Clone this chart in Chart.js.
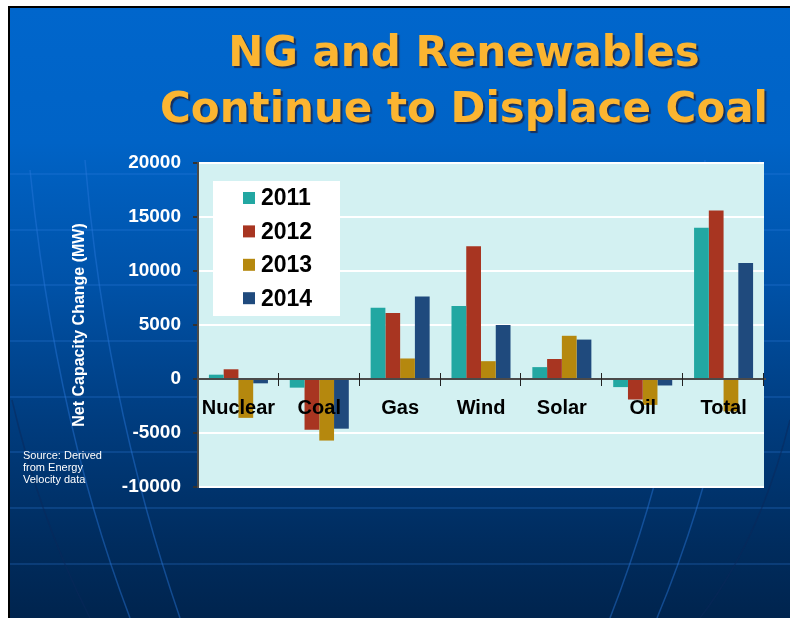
<!DOCTYPE html>
<html>
<head>
<meta charset="utf-8">
<script src="https://cdn.jsdelivr.net/npm/chart.js@4.4.1/dist/chart.umd.min.js"></script>
<style>
  html, body { margin: 0; padding: 0; width: 790px; height: 618px; overflow: hidden; background: #fff; }
  #slide {
    position: absolute; left: 8px; top: 6px; width: 780px; height: 610px;
    border-left: 2px solid #000; border-top: 2px solid #000;
    background: linear-gradient(to bottom, #0066cc 0%, #0063c6 22%, #0052a8 45%, #003c7e 68%, #002c5e 88%, #00244e 100%);
  }
  #deco { position: absolute; left: 0; top: 0; }
  #chart { position: absolute; left: 0; top: 0; }
  .title {
    position: absolute; left: 139px; width: 650px; text-align: center; white-space: nowrap;
    font-family: "DejaVu Sans", sans-serif; font-weight: bold; font-size: 42px; line-height: 56px;
    color: #fbb531; text-shadow: 2px 2px 1px #16305e;
  }
  #source {
    position: absolute; left: 23px; top: 449px;
    font-family: "Liberation Sans", Arial, sans-serif; font-size: 11px; line-height: 12px; color: #fff;
  }
</style>
</head>
<body>
<div id="slide"></div>
<svg id="deco" width="790" height="618">
  <g stroke="rgba(50,130,225,0.3)" stroke-width="1.5" fill="none">
    <line x1="10" y1="174" x2="790" y2="174"/>
    <line x1="10" y1="230" x2="790" y2="230"/>
    <line x1="10" y1="285" x2="790" y2="285"/>
    <line x1="10" y1="341" x2="790" y2="341"/>
    <line x1="10" y1="397" x2="790" y2="397"/>
    <line x1="10" y1="452" x2="790" y2="452"/>
    <line x1="10" y1="508" x2="790" y2="508"/>
    <line x1="10" y1="564" x2="790" y2="564"/>
  </g>
  <g stroke="rgba(40,120,220,0.45)" stroke-width="1.5" fill="none">
    <path d="M 30 170 Q 55 420 130 618"/>
    <path d="M 85 160 Q 105 400 180 618"/>
    <path d="M 760 160 Q 740 420 657 618"/>
    <path d="M 705 160 Q 695 400 610 618"/>
  </g>
  <g stroke="rgba(10,40,90,0.5)" stroke-width="1.5" fill="none">
    <path d="M 12 400 Q 40 520 90 618"/>
    <path d="M 790 420 Q 760 540 700 618"/>
  </g>
</svg>
<canvas id="chart" width="790" height="618"></canvas>
<div class="title" style="top:24px">NG and Renewables</div>
<div class="title" style="top:80px">Continue to Displace Coal</div>
<div id="source">Source: Derived<br>from Energy<br>Velocity data</div>
<script>
const categories = ["Nuclear", "Coal", "Gas", "Wind", "Solar", "Oil", "Total"];
const years = ["2011", "2012", "2013", "2014"];
const values2011 = [400, -800, 6600, 6750, 1100, -750, 14000];
const values2012 = [900, -4700, 6100, 12300, 1850, -1900, 15600];
const values2013 = [-3600, -5700, 1900, 1650, 4000, -2400, -3000];
const values2014 = [-400, -4600, 7650, 5000, 3650, -600, 10750];
const yMin = -10000;
const yMax = 20000;
const yStep = 5000;
const yTitle = "Net Capacity Change (MW)";

const colors = ["#22a7a2", "#a83521", "#b5880e", "#1f4a7d"];
const fontFamily = '"Liberation Sans", Arial, sans-serif';

// fond du graphique + ligne zéro + petites graduations
const plotArea = {
  id: "plotArea",
  beforeDraw(chart) {
    const { ctx, chartArea: a } = chart;
    ctx.save();
    ctx.fillStyle = "#d3f1f2";
    ctx.fillRect(a.left, a.top, a.right - a.left, a.bottom - a.top);
    ctx.restore();
  },
  afterDatasetsDraw(chart) {
    const { ctx, chartArea: a, scales } = chart;
    const y0 = scales.y.getPixelForValue(0);
    const n = categories.length;
    const w = (a.right - a.left) / n;
    ctx.save();
    ctx.strokeStyle = "#4a4a4a";
    ctx.lineWidth = 2;
    ctx.beginPath();
    ctx.moveTo(a.left, y0);
    ctx.lineTo(a.right + 2, y0);
    ctx.stroke();
    ctx.strokeStyle = "#222";
    ctx.lineWidth = 1;
    for (let i = 1; i <= n; i++) {
      const x = Math.round(a.left + i * w) - 0.5;
      ctx.beginPath();
      ctx.moveTo(x, y0 - 6);
      ctx.lineTo(x, y0 + 7);
      ctx.stroke();
    }
    ctx.restore();
  },
};

// légende dans la zone du graphique
const boxLegend = {
  id: "boxLegend",
  afterDraw(chart) {
    const { ctx, chartArea: a } = chart;
    const bx = a.left + 15, by = a.top + 18;
    ctx.save();
    ctx.fillStyle = "#fff";
    ctx.fillRect(bx, by, 127, 135);
    ctx.font = "bold 23px " + fontFamily;
    ctx.textBaseline = "middle";
    chart.data.datasets.forEach((ds, i) => {
      const cy = by + 17 + i * 33.4;
      ctx.fillStyle = ds.backgroundColor;
      ctx.fillRect(bx + 30, cy - 6, 12, 12);
      ctx.fillStyle = "#000";
      ctx.fillText(ds.label, bx + 48, cy + 1);
    });
    ctx.restore();
  },
};

new Chart(document.getElementById("chart"), {
  type: "bar",
  data: {
    labels: categories,
    datasets: [values2011, values2012, values2013, values2014].map((v, i) => ({
      label: years[i],
      data: v,
      backgroundColor: colors[i],
      borderWidth: 0,
    })),
  },
  options: {
    responsive: false,
    animation: false,
    categoryPercentage: 0.73,
    barPercentage: 1.0,
    layout: { padding: { left: 68, top: 163, right: 26, bottom: 131 } },
    plugins: {
      legend: { display: false },
      tooltip: { enabled: false },
    },
    scales: {
      x: {
        position: { y: 0 },
        offset: true,
        grid: { display: false },
        border: { display: false },
        ticks: {
          z: 1,
          autoSkip: false,
          maxRotation: 0,
          padding: 9,
          color: "#000",
          font: { family: fontFamily, size: 20, weight: "bold" },
        },
      },
      y: {
        min: yMin,
        max: yMax,
        afterFit(scale) { scale.width = 130; },
        ticks: {
          stepSize: yStep,
          padding: 12,
          color: "#fff",
          font: { family: fontFamily, size: 19, weight: "bold" },
          callback: (v) => String(v),
        },
        grid: {
          color: (c) => (c.tick && c.tick.value === 0 ? "#4a4a4a" : "#ffffff"),
          lineWidth: 2,
          tickColor: "#333",
          tickLength: 5,
        },
        border: { color: "#4a4a4a", width: 2 },
        title: {
          display: true,
          text: yTitle,
          color: "#fff",
          padding: 2,
          font: { family: fontFamily, size: 16, weight: "bold" },
        },
      },
    },
  },
  plugins: [plotArea, boxLegend],
});
</script>
</body>
</html>
